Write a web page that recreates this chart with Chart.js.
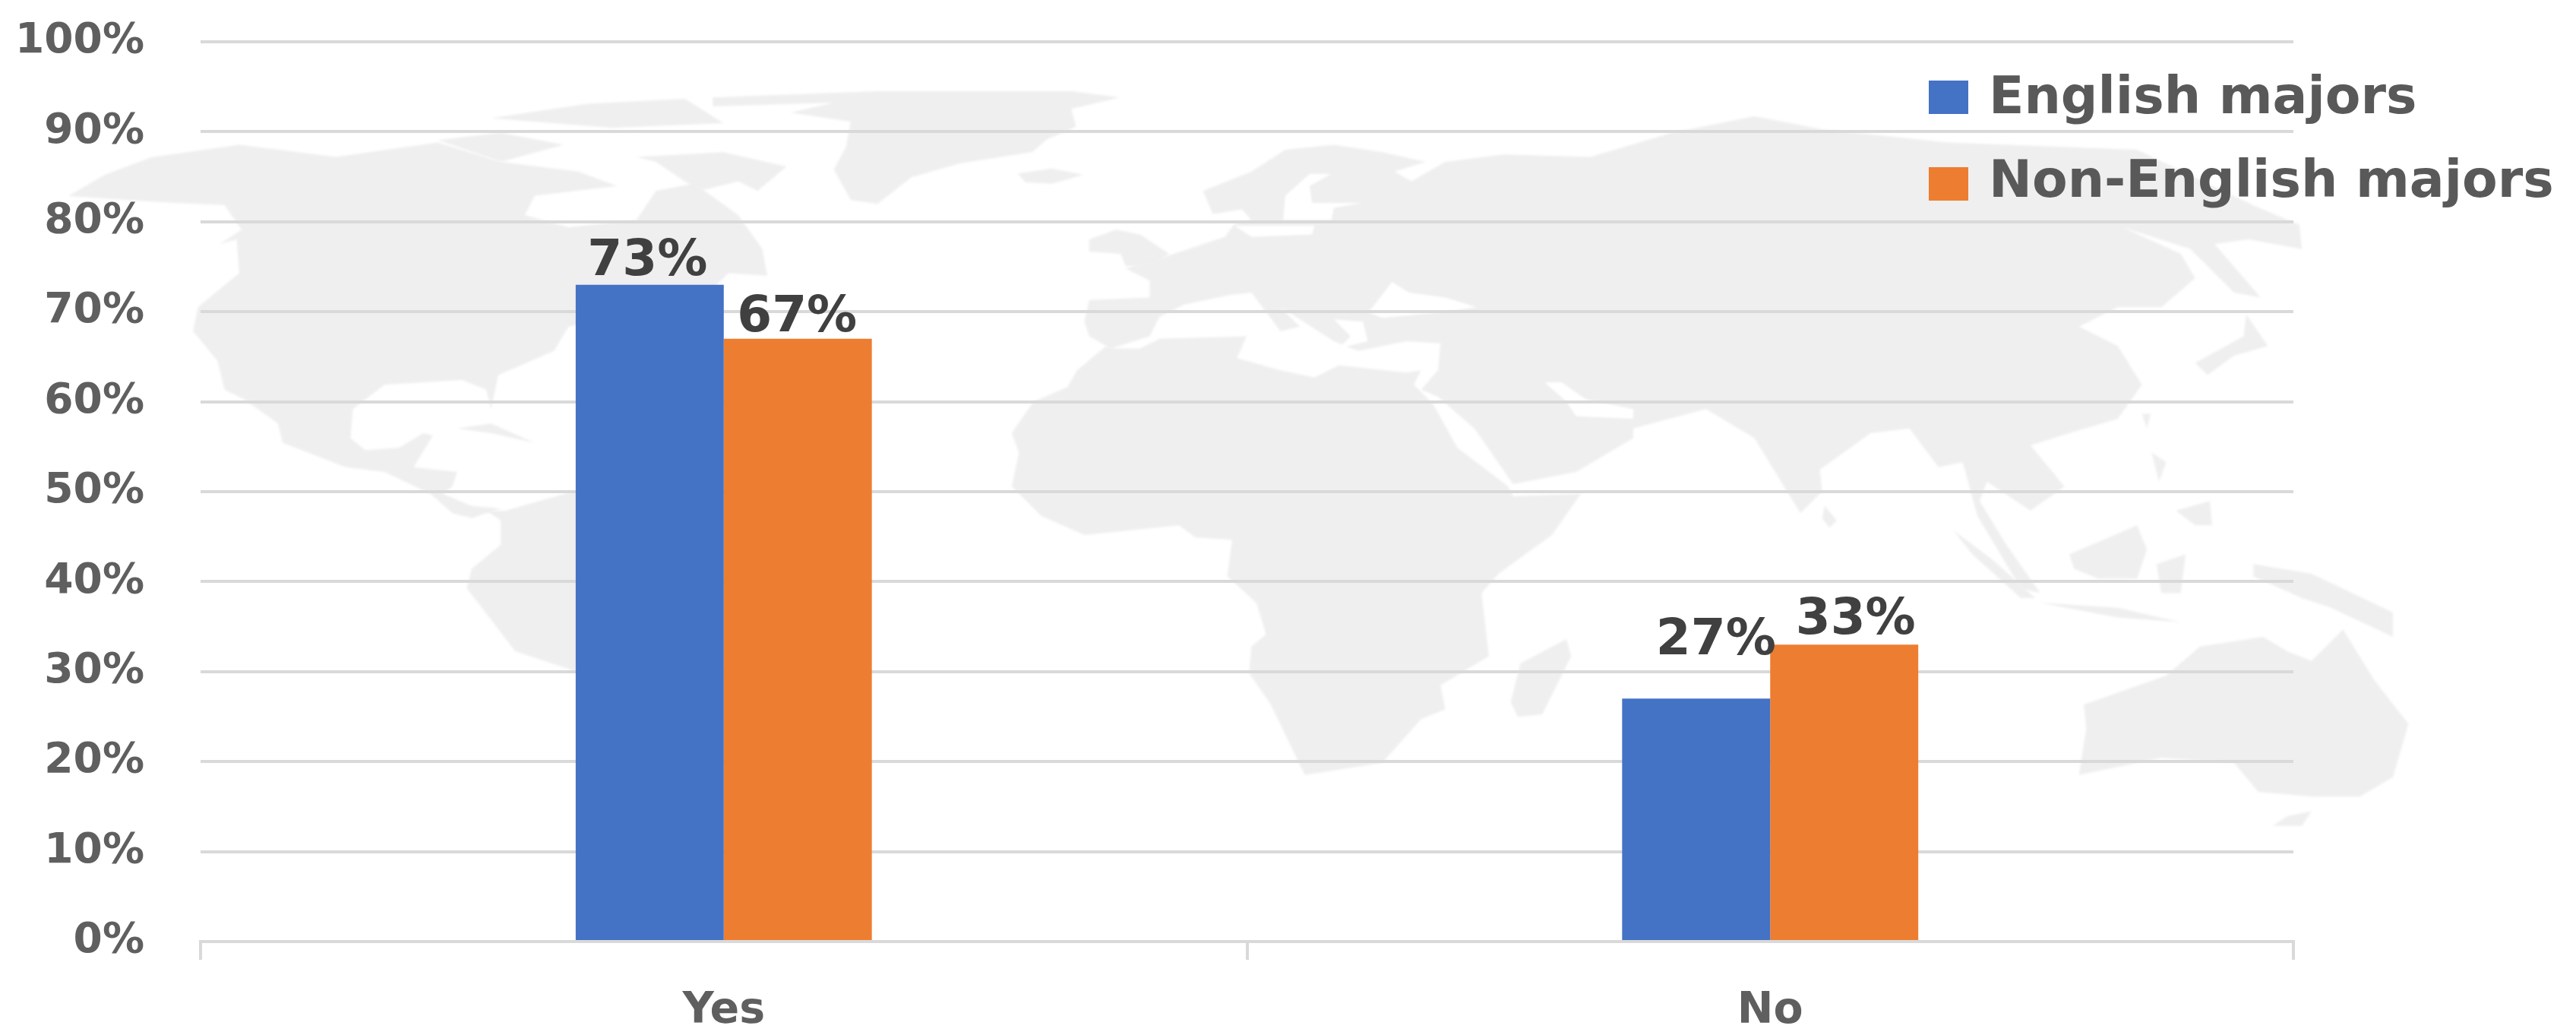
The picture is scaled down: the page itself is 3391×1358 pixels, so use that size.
<!DOCTYPE html>
<html>
<head>
<meta charset="utf-8">
<title>English majors vs Non-English majors</title>
<script src="https://cdn.jsdelivr.net/npm/chart.js@4"></script>
<style>
  html, body { margin: 0; padding: 0; background: #fff; }
  canvas { display: block; }
</style>
</head>
<body>
<canvas id="myChart" width="3391" height="1358"></canvas>
<script>
const categories = ['Yes', 'No'];
const englishMajors = [73, 27];
const nonEnglishMajors = [67, 33];
const seriesNames = ['English majors', 'Non-English majors'];
const seriesColors = ['#4472c4', '#ed7d31'];
const tickFont = '"DejaVu Sans"';

// the 27% and 33% labels sit off their bars in the original
const labelShift = [
  [{x: -3, y: -13}, {x: 26, y: -58}],
  [{x: -1, y: -10}, {x: 15, y: -14}]
];

// world map behind the plot, traced by hand from crops of the picture
const cropA = pts => pts.map(p => [200 + p[0] / 1.568, 130 + p[1] / 1.568]);
const cropB = pts => pts.map(p => [1150 + p[0] / 1.568, 130 + p[1] / 1.568]);
const cropC = pts => pts.map(p => [2150 + p[0] / 1.568, 130 + p[1] / 1.568]);
const cropTop = pts => pts.map(p => [900 + p[0] / 1.568, 60 + p[1] / 3]);

const land = [
  // north and central america
  [[199, 207], [138, 230], [90, 258], [150, 262], [230, 267], [300, 270]].concat(cropA([
    [150, 220], [185, 270], [140, 300], [175, 290], [180, 360], [95, 430], [85, 480], [135, 540], [150, 600],
    [190, 620], [260, 670], [270, 710], [400, 760], [480, 770], [575, 815], [620, 855], [660, 865], [720, 845],
    [660, 840], [600, 815], [620, 800], [630, 770], [540, 760], [580, 695], [560, 690], [510, 720], [440, 725],
    [410, 700], [415, 640], [480, 590], [640, 580], [690, 600], [700, 640], [715, 570], [830, 520], [860, 470],
    [1130, 420], [1190, 360], [1270, 365], [1260, 310], [1210, 240], [1120, 175], [1040, 190], [1000, 250],
    [860, 265], [770, 240], [790, 200], [960, 180], [880, 150], [720, 130], [590, 90], [380, 120], [180, 95]
  ])),
  cropA([[590, 85], [720, 70], [850, 95], [720, 130]]),
  cropA([[700, 40], [900, 10], [1100, 0], [1180, 50], [950, 60]]),
  cropA([[1000, 120], [1180, 110], [1310, 140], [1250, 190], [1210, 170], [1130, 190], [1040, 130]]),
  cropA([[630, 680], [700, 670], [790, 710], [700, 690]]),
  // south america
  cropA([[690, 850], [720, 870], [720, 920], [660, 970], [650, 1010], [750, 1140], [870, 1180], [1000, 1180], [1100, 900], [1000, 820], [870, 810], [730, 850]]),
  // greenland, iceland, britain
  cropTop([[60, 205], [400, 180], [800, 180], [900, 205], [800, 250], [810, 320], [750, 370], [720, 420], [570, 465], [470, 520], [400, 625], [345, 610], [310, 490], [335, 400], [345, 300], [220, 265], [310, 225], [60, 240]]),
  cropTop([[690, 505], [760, 485], [825, 510], [760, 545], [705, 540]]),
  cropB([[445, 290], [500, 270], [550, 280], [610, 320], [570, 345], [520, 345], [510, 320], [445, 315]]),
  // eurasia
  cropB([
    [680, 190], [780, 150], [850, 105], [950, 95], [1050, 110], [1140, 130], [1075, 150], [1110, 170],
    [1180, 130], [1300, 115], [1480, 120]
  ]).concat(cropC([
    [80, 70], [250, 36], [390, 63], [650, 90], [1040, 105], [1280, 220], [1375, 260], [1380, 310], [1270, 290],
    [1200, 300], [1295, 410], [1240, 400], [1150, 310], [1010, 265], [1130, 320], [1160, 370], [1090, 430],
    [1000, 430], [920, 470], [1000, 510], [1050, 590], [1000, 660], [900, 690], [820, 715], [890, 800],
    [820, 850], [730, 790], [715, 830], [770, 920], [840, 1020], [800, 1010], [710, 860], [680, 750],
    [630, 760], [570, 680], [490, 690], [385, 765], [390, 810], [345, 855], [250, 700], [150, 640], [0, 680]
  ])).concat(cropB([
    [1568, 700], [1450, 770], [1320, 795], [1240, 680], [1165, 615], [1130, 600], [1165, 560], [1170, 505],
    [1100, 500], [1000, 520], [950, 500], [880, 455], [840, 430], [880, 470], [840, 480], [780, 400],
    [735, 405], [640, 425], [590, 450], [570, 490], [490, 515], [445, 490], [435, 460], [445, 415], [570, 410],
    [570, 375], [520, 350], [620, 320], [725, 285], [745, 258], [780, 250], [760, 228], [700, 238]
  ])),
  // africa and madagascar
  cropB([
    [480, 510], [420, 560], [400, 595], [330, 625], [285, 690], [300, 730], [285, 800], [345, 860], [435, 900],
    [630, 880], [665, 905], [740, 910], [730, 985], [790, 1040], [810, 1105], [780, 1130], [775, 1185],
    [820, 1250], [890, 1395], [1050, 1370], [1130, 1280], [1180, 1260], [1170, 1210], [1270, 1150], [1255, 1020],
    [1290, 980], [1400, 900], [1460, 815], [1320, 820], [1310, 800], [1205, 720], [1155, 630], [1115, 590],
    [1130, 560], [1100, 565], [960, 550], [910, 575], [840, 560], [750, 535], [770, 490], [590, 495], [550, 515], [500, 515]
  ]),
  cropB([[1430, 1115], [1440, 1150], [1380, 1270], [1330, 1275], [1315, 1245], [1335, 1165]]),
  // east asian and pacific islands
  cropC([[1160, 545], [1260, 490], [1265, 445], [1310, 510], [1240, 530], [1185, 570]]),
  cropC([[1050, 650], [1068, 650], [1060, 680]]),
  cropC([[395, 840], [420, 870], [405, 885], [390, 865]]),
  cropC([[1070, 730], [1100, 750], [1085, 790]]),
  cropC([[1120, 850], [1190, 830], [1195, 880], [1160, 880]]),
  cropC([[660, 890], [740, 950], [830, 1030], [800, 1030], [700, 940]]),
  cropC([[900, 940], [1040, 880], [1060, 930], [1040, 990], [960, 990], [910, 970]]),
  cropC([[840, 1040], [1000, 1050], [1130, 1080], [1000, 1070]]),
  cropC([[1080, 960], [1140, 940], [1130, 1020], [1090, 1020]]),
  cropC([[1280, 960], [1400, 980], [1568, 1060], [1568, 1110], [1440, 1050], [1380, 1030], [1280, 985]]),
  // australia
  cropC([
    [930, 1250], [1100, 1190], [1170, 1130], [1300, 1110], [1350, 1140], [1400, 1160], [1465, 1095], [1530, 1200],
    [1600, 1290], [1568, 1400], [1500, 1440], [1400, 1440], [1290, 1430], [1240, 1370], [1090, 1360], [920, 1395], [935, 1300]
  ]),
  cropC([[1350, 1480], [1400, 1470], [1380, 1500], [1320, 1500]])
];

// inland seas, painted back in white over the land
const water = [
  cropB([[745, 262], [910, 262], [905, 280], [780, 285]]),
  cropB([[845, 250], [850, 200], [900, 155], [945, 155], [900, 180], [905, 215], [1010, 215], [950, 225], [945, 250]]),
  cropB([[1030, 430], [1070, 378], [1105, 400], [1180, 410], [1245, 430], [1180, 440], [1050, 452], [1020, 440]]),
  cropB([[950, 455], [1010, 460], [1020, 500], [960, 515], [985, 490]]),
  cropB([[1385, 585], [1420, 585], [1470, 620], [1568, 640], [1568, 660], [1450, 655], [1430, 625]])
];

function fillShape(ctx, pts, color) {
  ctx.fillStyle = color;
  ctx.beginPath();
  pts.forEach((p, i) => i ? ctx.lineTo(p[0], p[1]) : ctx.moveTo(p[0], p[1]));
  ctx.closePath();
  ctx.fill();
}

const worldMap = {
  id: 'worldMap',
  beforeDraw(chart) {
    const ctx = chart.ctx;
    ctx.save();
    ctx.fillStyle = '#fff';
    ctx.fillRect(0, 0, chart.width, chart.height);
    ctx.filter = 'blur(1.5px)';
    land.forEach(s => fillShape(ctx, s, '#efefef'));
    water.forEach(s => fillShape(ctx, s, '#ffffff'));
    ctx.restore();
  }
};

// data labels over the bars
const barLabels = {
  id: 'barLabels',
  afterDatasetsDraw(chart) {
    const ctx = chart.ctx;
    ctx.save();
    ctx.font = 'bold 66px ' + tickFont;
    ctx.fillStyle = '#404040';
    ctx.textAlign = 'center';
    ctx.textBaseline = 'alphabetic';
    chart.data.datasets.forEach((ds, d) => {
      chart.getDatasetMeta(d).data.forEach((bar, i) => {
        const s = labelShift[d][i];
        ctx.fillText(ds.data[i] + '%', bar.x + s.x, bar.y + s.y);
      });
    });
    ctx.restore();
  }
};

// legend sits over the plot at top right
const cornerLegend = {
  id: 'cornerLegend',
  afterDraw(chart) {
    const ctx = chart.ctx;
    ctx.save();
    ctx.font = 'bold 68px ' + tickFont;
    ctx.textBaseline = 'alphabetic';
    chart.data.datasets.forEach((ds, d) => {
      const y = 150 + d * 114;
      ctx.fillStyle = ds.backgroundColor;
      ctx.fillRect(2539, y - 44, 52, 44);
      ctx.fillStyle = '#595959';
      ctx.fillText(ds.label, 2618, y - 1 + d * -4);
    });
    ctx.restore();
  }
};

new Chart(document.getElementById('myChart'), {
  type: 'bar',
  data: {
    labels: categories,
    datasets: [
      { label: seriesNames[0], data: englishMajors, backgroundColor: seriesColors[0] },
      { label: seriesNames[1], data: nonEnglishMajors, backgroundColor: seriesColors[1] }
    ]
  },
  plugins: [worldMap, barLabels, cornerLegend],
  options: {
    responsive: false,
    animation: false,
    layout: { padding: { top: 55, right: 372, left: 0, bottom: 0 } },
    datasets: { bar: { categoryPercentage: 0.283, barPercentage: 1 } },
    plugins: { legend: { display: false }, tooltip: { enabled: false } },
    scales: {
      x: {
        afterFit: s => { s.height = 119; s.paddingLeft = 0; s.paddingRight = 0; },
        grid: { offset: true, drawOnChartArea: false, tickLength: 24, lineWidth: 4, color: '#d9d9d9' },
        border: { width: 4, color: '#d9d9d9' },
        ticks: { color: '#5f5f5f', padding: 34, font: { family: tickFont, size: 57, weight: 'bold' } }
      },
      y: {
        min: 0,
        max: 100,
        afterFit: s => { s.width = 264; s.paddingTop = 0; s.paddingBottom = 0; },
        grid: { drawTicks: false, lineWidth: 4, color: '#d9d9d9' },
        border: { display: false },
        ticks: {
          stepSize: 10,
          color: '#5f5f5f',
          padding: 74,
          font: { family: tickFont, size: 55, weight: 'bold' },
          callback: v => v + '%'
        }
      }
    }
  }
});
</script>
</body>
</html>
